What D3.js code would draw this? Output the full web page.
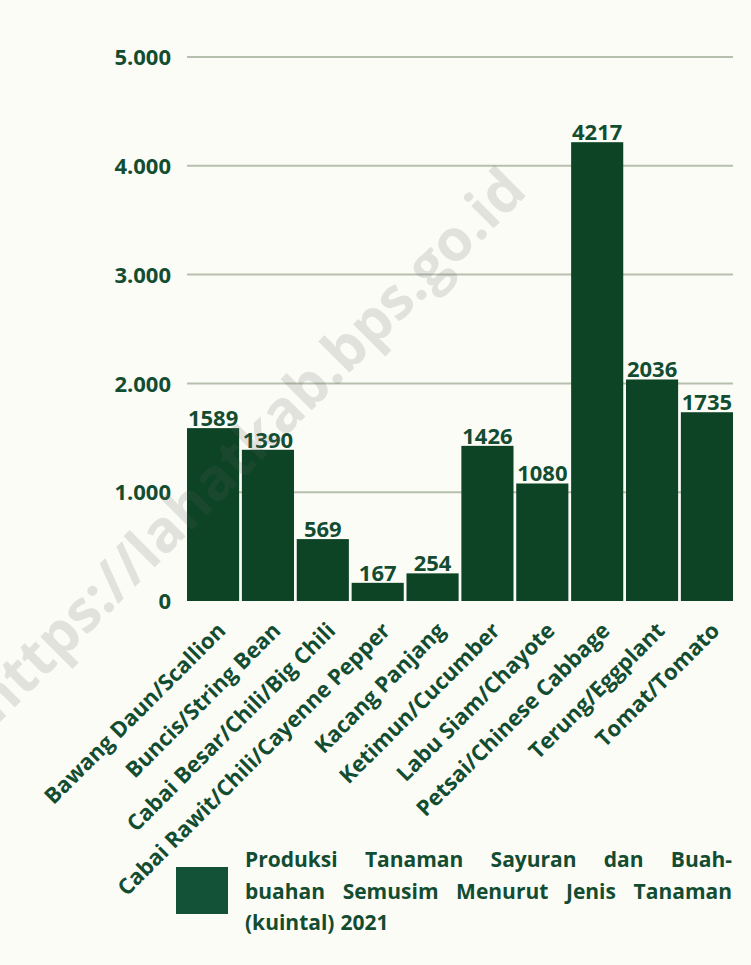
<!DOCTYPE html>
<html><head><meta charset="utf-8">
<script src="https://cdn.jsdelivr.net/npm/d3@7"></script>
<style>html,body{margin:0;padding:0;background:#fcfcf7;}svg{display:block;}</style>
</head><body>
<svg id="c" width="751" height="965"></svg>
<script>
const categories = ["Bawang Daun/Scallion","Buncis/String Bean","Cabai Besar/Chili/Big Chili","Cabai Rawit/Chili/Cayenne Pepper","Kacang Panjang","Ketimun/Cucumber","Labu Siam/Chayote","Petsai/Chinese Cabbage","Terung/Eggplant","Tomat/Tomato"];
const values = [1589,1390,569,167,254,1426,1080,4217,2036,1735];
const yTicks = [0,1000,2000,3000,4000,5000];
const seriesName = "Produksi Tanaman Sayuran dan Buah-buahan Semusim Menurut Jenis Tanaman (kuintal) 2021";
const legendLines = ["Produksi Tanaman Sayuran dan Buah-","buahan Semusim Menurut Jenis Tanaman","(kuintal) 2021"];

const FONT = "'Open Sans', 'Noto Sans', sans-serif";
const textCol = "#134d31", barCol = "#0c4425", legCol = "#145237";
const svg = d3.select("#c");
svg.append("rect").attr("width",751).attr("height",965).attr("fill","#fcfcf7");

const x = d3.scaleBand().domain(categories).range([187,733]).paddingInner(0.05).paddingOuter(0);
const y = d3.scaleLinear().domain([0,5000]).range([601,57]);

const fmt = d3.formatLocale({decimal:",",thousands:".",grouping:[3],currency:["",""]}).format(",d");

const g = svg.append("g");
g.selectAll("line.grid").data(yTicks.filter(d=>d>0)).join("line")
  .attr("x1",187).attr("x2",733).attr("y1",d=>y(d)).attr("y2",d=>y(d))
  .attr("stroke","#b7c0ae").attr("stroke-width",2);

const yAxis = d3.axisLeft(y).tickValues(yTicks).tickFormat(fmt).tickSize(0).tickPadding(0);
const ya = g.append("g").attr("transform","translate(171,0)").call(yAxis);
ya.select(".domain").remove();
ya.selectAll("text").attr("font-family",FONT).attr("font-weight",700).attr("font-size",22).attr("fill",textCol).attr("dy","0.35em");

g.selectAll("rect.bar").data(values).join("rect")
  .attr("x",(d,i)=>x(categories[i])).attr("width",x.bandwidth())
  .attr("y",d=>y(d)).attr("height",d=>y(0)-y(d)).attr("fill",barCol);

g.selectAll("text.val").data(values).join("text")
  .attr("x",(d,i)=>x(categories[i])+x.bandwidth()/2).attr("y",d=>y(d)-2)
  .attr("text-anchor","middle").attr("font-family",FONT).attr("font-weight",700).attr("font-size",22)
  .attr("fill",textCol).text(d=>d);

const xAxis = d3.axisBottom(x).tickSize(0).tickPadding(0);
const xa = g.append("g").attr("transform","translate(0,601)").call(xAxis);
xa.select(".domain").remove();
xa.selectAll("text").attr("font-family",FONT).attr("font-weight",700).attr("font-size",22).attr("fill",textCol)
  .attr("text-anchor","end").attr("dy",null).attr("y",null)
  .attr("transform","translate(14,31) rotate(-45)");

// legend
svg.append("rect").attr("x",176).attr("y",867).attr("width",52).attr("height",47).attr("fill",legCol);
const lx0 = 245, lx1 = 732;
legendLines.forEach((line,li)=>{
  const words = line.split(" ");
  const yy = 867 + li*31.5;
  const ts = words.map(w=>svg.append("text").text(w).attr("y",yy)
    .attr("font-family",FONT).attr("font-weight",700).attr("font-size",21).attr("fill",textCol));
  const ws = ts.map(t=>t.node().getComputedTextLength());
  const total = d3.sum(ws);
  const last = li===legendLines.length-1;
  const gap = last ? 6 : (lx1-lx0-total)/(words.length-1);
  let cx = lx0;
  ts.forEach((t,i)=>{t.attr("x",cx); cx += ws[i]+gap;});
});

// watermark (on top, translucent)
svg.append("text").text("https://lahatkab.bps.go.id")
  .attr("transform","translate(252,448) rotate(-45)")
  .attr("text-anchor","middle").attr("dominant-baseline","middle")
  .attr("font-family",FONT).attr("font-weight",700).attr("font-size",58)
  .attr("fill","#606060").attr("fill-opacity",0.17);
</script>
</body></html>
